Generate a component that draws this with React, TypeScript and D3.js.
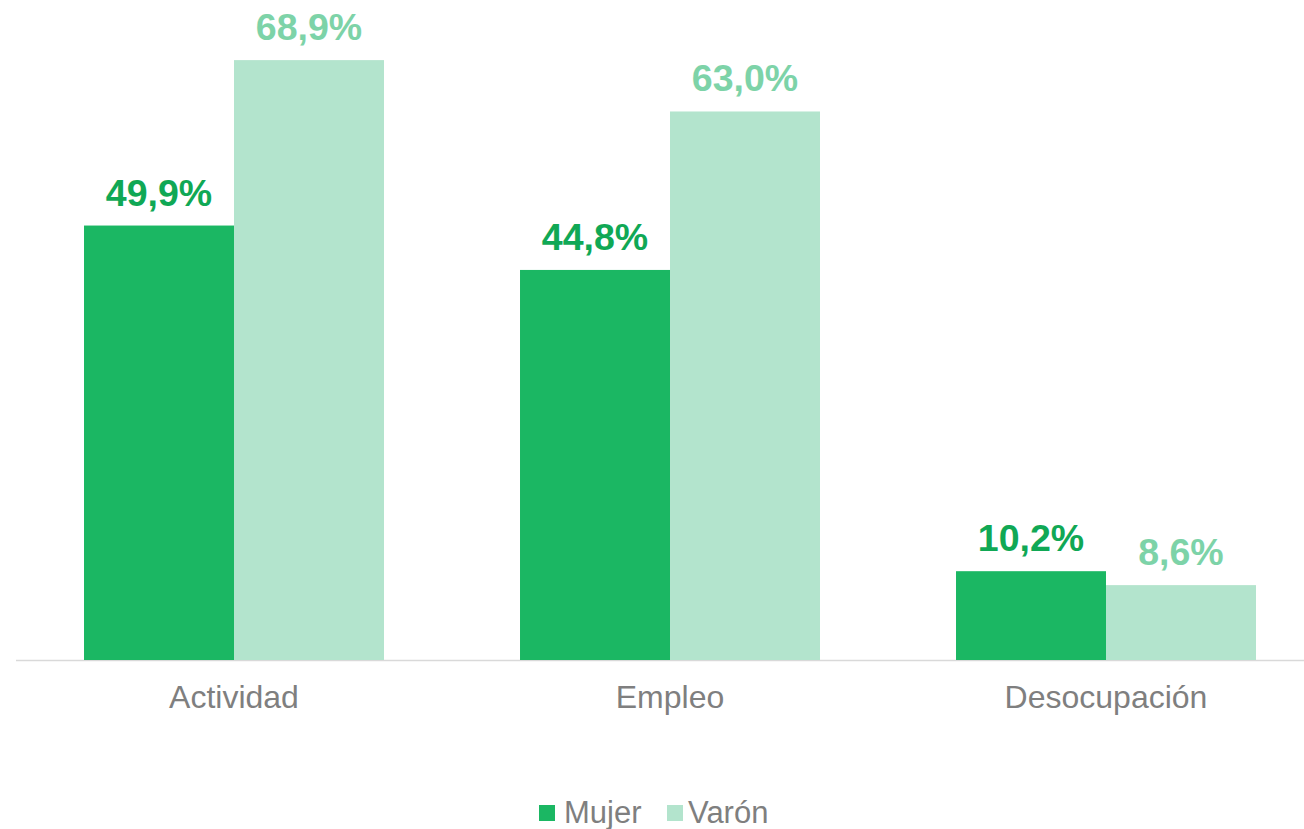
import React from 'react';
import * as d3 from 'd3';

const categories = ['Actividad', 'Empleo', 'Desocupación'];
const seriesNames = ['Mujer', 'Varón'];
const mujerValues = [49.9, 44.8, 10.2];
const varonValues = [68.9, 63.0, 8.6];

const barColors = ['#1BB763', '#B3E4CD'];
const labelColors = ['#10A855', '#7DD3A8'];

const W = 1304;
const H = 829;
const FONT = '"Liberation Sans", Arial, sans-serif';

const App = () => {
  const x = d3.scaleBand<string>()
    .domain(categories)
    .range([16, 1324])
    .paddingInner(0.312)
    .paddingOuter(0.156);

  const xInner = d3.scaleBand<string>()
    .domain(seriesNames)
    .range([0, x.bandwidth()]);

  const y = d3.scaleLinear().domain([0, 75]).range([660, 7]);

  const fmt = (v: number) => d3.format('.1f')(v).replace('.', ',') + '%';

  const series = [mujerValues, varonValues];

  // legend layout
  const legend = [
    { name: seriesNames[0], sx: 539, tx: 564 },
    { name: seriesNames[1], sx: 667, tx: 688 },
  ];

  return (
    <svg width={W} height={H} style={{ position: 'absolute', left: 0, top: 0 }} fontFamily={FONT}>
      <rect width={W} height={H} fill="#fff" />
      <line x1={x.range()[0]} x2={x.range()[1]} y1={y(0) + 0.5} y2={y(0) + 0.5} stroke="#D9D9D9" strokeWidth={1.5} />

      {categories.map((c, i) => (
        <g key={c} transform={`translate(${x(c)},0)`}>
          {seriesNames.map((s, j) => {
            const v = series[j][i];
            const bx = xInner(s)!;
            return (
              <g key={s}>
                <rect x={bx} y={y(v)} width={xInner.bandwidth()} height={y(0) - y(v)} fill={barColors[j]} />
                <text
                  x={bx + xInner.bandwidth() / 2}
                  y={y(v) - 20}
                  textAnchor="middle"
                  fontSize={37.5}
                  fontWeight="bold"
                  fill={labelColors[j]}
                >
                  {fmt(v)}
                </text>
              </g>
            );
          })}
          <text x={x.bandwidth() / 2} y={708} textAnchor="middle" fontSize={32} fill="#7F7F7F">
            {c}
          </text>
        </g>
      ))}

      {legend.map((l, j) => (
        <g key={l.name}>
          <rect x={l.sx} y={805} width={16} height={16} fill={barColors[j]} />
          <text x={l.tx} y={823} fontSize={31} fill="#7F7F7F">{l.name}</text>
        </g>
      ))}
    </svg>
  );
};

export default App;
